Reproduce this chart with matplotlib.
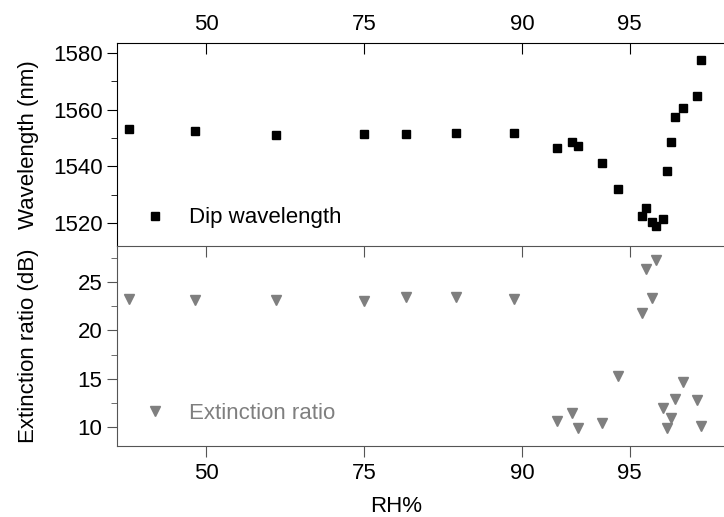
import numpy as np
import matplotlib
matplotlib.use("Agg")
import matplotlib.pyplot as plt

plt.rcParams['font.family'] = ['Liberation Sans', 'DejaVu Sans']
plt.rcParams['font.size'] = 16

# relative humidity (%) of each measurement
rh = [37.0, 48.0, 62.0, 75.0, 80.0, 85.0, 89.5, 92.0, 92.7, 93.0, 94.0, 94.6,
      95.4, 95.5, 95.7, 95.8, 96.0, 96.1, 96.2, 96.3, 96.5, 96.8, 96.9]
# dip wavelength (nm)
dip_wl = [1553.2, 1552.5, 1551.0, 1551.3, 1551.3, 1551.8, 1551.7, 1546.6, 1548.7,
          1547.0, 1541.3, 1532.1, 1522.5, 1525.3, 1520.2, 1519.0, 1521.2, 1538.4,
          1548.6, 1557.5, 1560.6, 1565.0, 1577.7]
# extinction ratio (dB)
ext_ratio = [23.27, 23.2, 23.2, 23.1, 23.45, 23.5, 23.27, 10.59, 11.45, 9.9, 10.4,
             15.3, 21.78, 26.38, 23.34, 27.3, 11.9, 9.83, 10.87, 12.88, 14.67,
             12.77, 10.07]

rh_ticks = [50, 75, 90, 95]


# logit axis for RH in percent
def fwd(x):
    x = np.clip(x, 1e-6, 100 - 1e-6)
    return np.log(x / (100 - x))


def inv(y):
    return 100 / (1 + np.exp(-y))


fig = plt.figure(figsize=(7.24, 5.17), dpi=100)
ax1 = fig.add_axes([0.1616, 0.5242, 0.8384, 0.3926])
ax2 = fig.add_axes([0.1616, 0.1373, 0.8384, 0.3869], sharex=ax1)

gray = '#7f7f7f'

ax1.plot(rh, dip_wl, ls='none', marker='s', ms=6, color='black', label='Dip wavelength')
ax2.plot(rh, ext_ratio, ls='none', marker='v', ms=7.5, color=gray, mec=gray,
         label='Extinction ratio')

ax1.set_xscale('function', functions=(fwd, inv))
ax1.set_xlim(35.0, 97.34)
ax1.set_xticks(rh_ticks)
ax1.set_xticklabels([str(t) for t in rh_ticks])
ax1.xaxis.set_minor_locator(matplotlib.ticker.NullLocator())

ax1.set_ylim(1511.8, 1583.6)
ax1.set_yticks([1520, 1540, 1560, 1580])
ax1.set_yticks([1530, 1550, 1570], minor=True)
ax2.set_ylim(8.0, 28.77)
ax2.set_yticks([10, 15, 20, 25])
ax2.set_yticks([12.5, 17.5, 22.5, 27.5], minor=True)

ax1.tick_params(axis='x', which='major', top=True, bottom=False, labeltop=True,
                labelbottom=False, direction='in', length=8, pad=6)
ax2.tick_params(axis='x', which='major', top=True, bottom=True, labeltop=False,
                labelbottom=True, direction='out', length=8, pad=4)
for t in ax2.xaxis.get_major_ticks():
    t.tick2line.set_marker(matplotlib.lines.TICKDOWN)
    t.tick2line.set_markersize(8)
for ax in (ax1, ax2):
    ax.tick_params(axis='y', which='major', direction='out', length=7.5, pad=3)
    ax.tick_params(axis='y', which='minor', direction='out', length=4)
    ax.spines['right'].set_visible(False)

ax1.spines['bottom'].set_visible(False)
for s in ax2.spines.values():
    s.set_color('#555555')
ax2.tick_params(colors='#555555', labelcolor='black', which='both')

ax1.set_ylabel('Wavelength (nm)')
ax2.set_ylabel('Extinction ratio (dB)')
ax1.yaxis.set_label_coords(-0.128, 0.5)
ax2.yaxis.set_label_coords(-0.128, 0.5)
ax2.set_xlabel('RH%')
ax2.xaxis.set_label_coords(0.46, -0.25)

ax1.legend(loc='center left', bbox_to_anchor=(0.046, 0.138), frameon=False,
           borderpad=0, borderaxespad=0, handlelength=0.9, handletextpad=1.1,
           numpoints=1)
ax2.legend(loc='center left', bbox_to_anchor=(0.046, 0.165), frameon=False,
           borderpad=0, borderaxespad=0, handlelength=0.9, handletextpad=1.1,
           numpoints=1, labelcolor=gray)

fig.savefig('out.png', dpi=100)
